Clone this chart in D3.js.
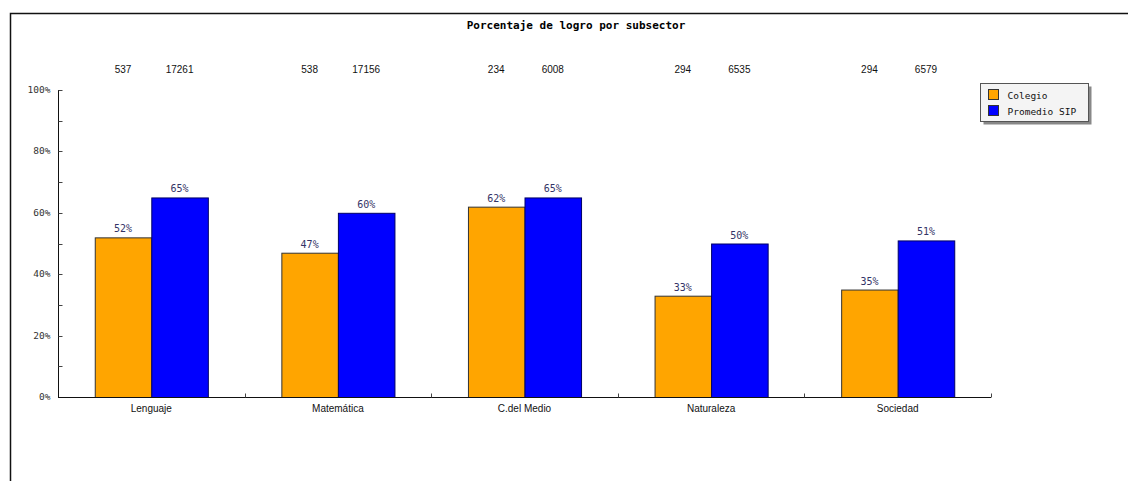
<!DOCTYPE html>
<html>
<head>
<meta charset="utf-8">
<script src="https://cdn.jsdelivr.net/npm/d3@7"></script>
<style>
  html, body { margin: 0; padding: 0; background: #fff; }
  svg { display: block; }
</style>
</head>
<body>
<script>
const width = 1128
const height = 481

const subsectors = ["Lenguaje", "Matemática", "C.del Medio", "Naturaleza", "Sociedad"]
const seriesNames = ["Colegio", "Promedio SIP"]
const colegio = [52, 47, 62, 33, 35]
const promedioSip = [65, 60, 65, 50, 51]
const countsColegio = [537, 538, 234, 294, 294]
const countsSip = [17261, 17156, 6008, 6535, 6579]
const yTicks = [0, 20, 40, 60, 80, 100]

const colors = ["#ffa500", "#0000ff"]
const strokes = ["#333", "#000066"]
const mono = "'DejaVu Sans Mono', monospace"
const sans = "'Liberation Sans', Arial, sans-serif"

const margin = {left: 58, right: 137, top: 90, bottom: 84}

const x = d3.scaleBand().domain(subsectors).range([margin.left, width - margin.right]).paddingInner(0).paddingOuter(0)
const xInner = d3.scaleBand().domain(seriesNames).range([0, x.bandwidth()]).paddingInner(0).paddingOuter(0.65)
const y = d3.scaleLinear().domain([0, 100]).range([height - margin.bottom, margin.top])

const svg = d3.select("body").append("svg").attr("width", width).attr("height", height)

// frame
svg.append("path").attr("d", `M10.5,${height}V13.5H${width}`).attr("fill", "none").attr("stroke", "#111").attr("stroke-width", 1.5)

svg.append("text")
  .attr("x", 576).attr("y", 29)
  .attr("text-anchor", "middle")
  .style("font", `bold 11px ${mono}`)
  .text("Porcentaje de logro por subsector")

const rows = subsectors.map((s, i) => ({
  name: s,
  values: [
    {series: seriesNames[0], value: colegio[i], count: countsColegio[i], k: 0},
    {series: seriesNames[1], value: promedioSip[i], count: countsSip[i], k: 1}
  ]
}))

const group = svg.append("g").selectAll("g").data(rows).join("g")
  .attr("transform", (d) => `translate(${x(d.name)},0)`)

group.selectAll("rect").data((d) => d.values).join("rect")
  .attr("x", (d) => xInner(d.series) + 0.5)
  .attr("y", (d) => y(d.value) + 0.5)
  .attr("width", xInner.bandwidth())
  .attr("height", (d) => y(0) - y(d.value))
  .attr("fill", (d) => colors[d.k])
  .attr("stroke", (d) => strokes[d.k])
  .attr("stroke-width", 1)

group.selectAll("text.val").data((d) => d.values).join("text")
  .attr("class", "val")
  .attr("x", (d) => xInner(d.series) + xInner.bandwidth() / 2)
  .attr("y", (d) => y(d.value) - 5)
  .attr("text-anchor", "middle")
  .attr("fill", "#333366")
  .style("font", `10px ${mono}`)
  .text((d) => d.value + "%")

group.selectAll("text.cnt").data((d) => d.values).join("text")
  .attr("class", "cnt")
  .attr("x", (d) => xInner(d.series) + xInner.bandwidth() / 2)
  .attr("y", 73)
  .attr("text-anchor", "middle")
  .attr("fill", "#111")
  .style("font", `10px ${sans}`)
  .text((d) => d.count)

// y axis
const yAxis = svg.append("g").attr("transform", `translate(${margin.left + 0.5},0)`)
yAxis.append("line").attr("y1", y(100)).attr("y2", y(0)).attr("stroke", "#111")
yAxis.selectAll("line.minor").data(d3.range(0, 101, 10)).join("line")
  .attr("class", "minor")
  .attr("x1", 0).attr("x2", 4)
  .attr("y1", (d) => Math.round(y(d)) + 0.5).attr("y2", (d) => Math.round(y(d)) + 0.5)
  .attr("stroke", "#444")
yAxis.selectAll("text").data(yTicks).join("text")
  .attr("x", -8).attr("y", (d) => y(d) + 3)
  .attr("text-anchor", "end")
  .attr("fill", "#333")
  .style("font", `9.5px ${mono}`)
  .text((d) => d + "%")

// x axis
const xAxis = svg.append("g").attr("transform", `translate(0,${y(0) + 0.5})`)
xAxis.append("line").attr("x1", margin.left).attr("x2", width - margin.right).attr("stroke", "#111")
const bounds = subsectors.slice(1).map((s) => x(s)).concat([width - margin.right])
xAxis.selectAll("line.tick").data(bounds).join("line")
  .attr("class", "tick")
  .attr("x1", (d) => Math.round(d) + 0.5).attr("x2", (d) => Math.round(d) + 0.5)
  .attr("y1", 0).attr("y2", -4)
  .attr("stroke", "#444")
xAxis.selectAll("text").data(subsectors).join("text")
  .attr("x", (d) => x(d) + x.bandwidth() / 2)
  .attr("y", 14)
  .attr("text-anchor", "middle")
  .attr("fill", "#111")
  .style("font", `10px ${sans}`)
  .text((d) => d)

// legend
const legend = svg.append("g").attr("transform", "translate(980.5,83.5)")
legend.append("rect").attr("x", 3).attr("y", 3).attr("width", 108).attr("height", 38).attr("fill", "#888")
legend.append("rect").attr("width", 108).attr("height", 38).attr("fill", "#f4f4f4").attr("stroke", "#555")
seriesNames.forEach((s, i) => {
  legend.append("rect").attr("x", 8).attr("y", 6 + i * 16).attr("width", 10).attr("height", 10)
    .attr("fill", colors[i]).attr("stroke", "#333")
  legend.append("text").attr("x", 27).attr("y", 15 + i * 16)
    .attr("fill", "#111")
    .style("font", `9.5px ${mono}`)
    .text(s)
})
</script>
</body>
</html>
